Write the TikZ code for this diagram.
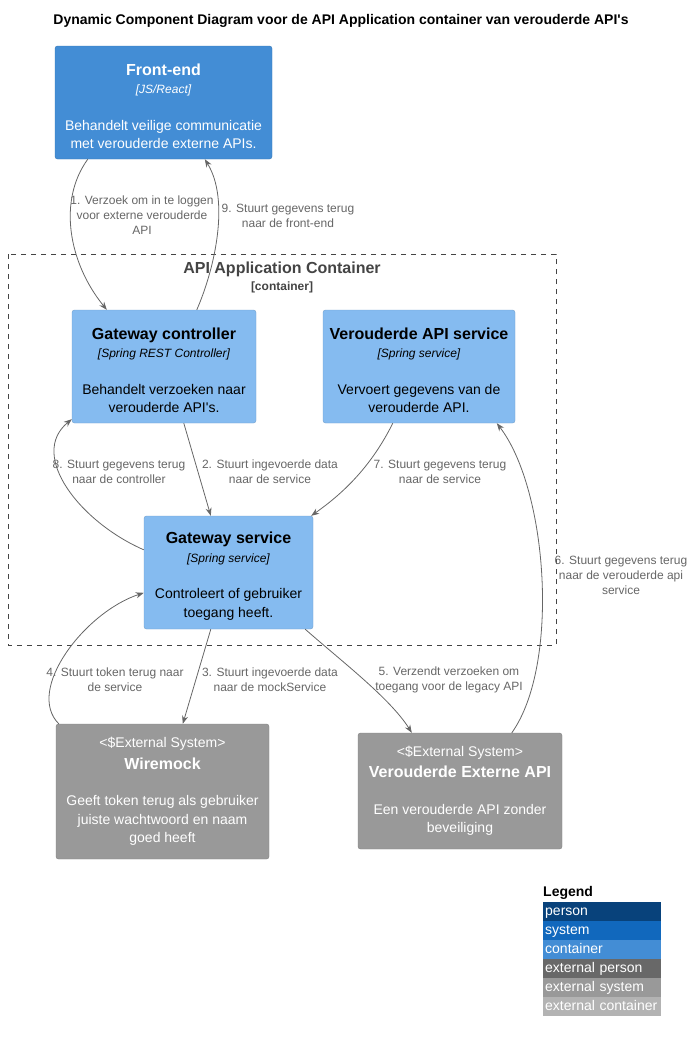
\documentclass[tikz,border=0pt]{standalone}
\usepackage{fontspec}
\setmainfont{Liberation Sans}[Ligatures=TeXOff]
\usepackage{tikz}
\usetikzlibrary{arrows.meta, positioning}

\definecolor{c4person}{HTML}{08427B}
\definecolor{c4system}{HTML}{1168BD}
\definecolor{c4container}{HTML}{438DD5}
\definecolor{c4component}{HTML}{85BBF0}
\definecolor{c4extperson}{HTML}{686868}
\definecolor{c4extsystem}{HTML}{999999}
\definecolor{c4extcontainer}{HTML}{B3B3B3}
\definecolor{relgray}{HTML}{666666}
\definecolor{bndgray}{HTML}{444444}

\newcommand{\boxtitle}[1]{{\fontsize{16}{19}\selectfont\bfseries #1}}
\newcommand{\boxtech}[1]{{\fontsize{12}{17}\selectfont\itshape #1}}

\begin{document}
\begin{tikzpicture}[x=1pt, y=-1pt,
        cbox/.style={rectangle, rounded corners=2.5pt, align=center, inner sep=0pt,
                     font=\fontsize{14}{18.5}\selectfont},
        container/.style={cbox, fill=c4container, draw=c4container!85!black, text=white},
        component/.style={cbox, fill=c4component, draw=c4component!85!black, text=black},
        extsys/.style={cbox, fill=c4extsystem, draw=c4extsystem!85!black, text=white},
        rel/.style={-{Stealth[length=8pt, width=6pt]}, relgray, line width=0.8pt},
        lbl/.style={align=center, text=relgray, font=\fontsize{12}{15}\selectfont, inner sep=0pt},
        legrow/.style={rectangle, minimum width=118pt, minimum height=18.6pt, inner sep=0pt,
                       text width=114pt, align=left, text=white, text height=9pt, text depth=2pt,
                       font=\fontsize{14}{16}\selectfont}
    ]
        \useasboundingbox (0,0) rectangle (691,1039);

        % title
        \node[font=\fontsize{14}{16}\selectfont\bfseries] (title) at (341,21)
            {Dynamic Component Diagram voor de API Application container van verouderde API's};

        % boundary
        \draw[bndgray, dash pattern=on 5pt off 5pt] (8,254) rectangle (556,645);
        \node[text=bndgray, font=\fontsize{16}{19}\selectfont\bfseries] (bnd) at (282,269)
            {API Application Container};
        \node[text=bndgray, font=\fontsize{12}{14}\selectfont\bfseries] (bndtype) at (282,287)
            {[container]};

        % elements
        \node[container, minimum width=217pt, minimum height=113pt] (fe) at (163.5,102.5)
            {\rule{0pt}{19pt}\boxtitle{Front-end}\\ \boxtech{[JS/React]}\\[18pt]
             Behandelt veilige communicatie\\ met verouderde externe APIs.};
        \node[component, minimum width=184pt, minimum height=113pt] (gc) at (164,366.5)
            {\rule{0pt}{19pt}\boxtitle{Gateway controller}\\ \boxtech{[Spring REST Controller]}\\[18pt]
             Behandelt verzoeken naar\\ verouderde API's.};
        \node[component, minimum width=192pt, minimum height=113pt] (vas) at (419,366.5)
            {\rule{0pt}{19pt}\boxtitle{Verouderde API service}\\ \boxtech{[Spring service]}\\[18pt]
             Vervoert gegevens van de\\ verouderde API.};
        \node[component, minimum width=169pt, minimum height=113pt] (gs) at (228.5,572.5)
            {\rule{0pt}{19pt}\boxtitle{Gateway service}\\ \boxtech{[Spring service]}\\[18pt]
             Controleert of gebruiker\\ toegang heeft.};
        \node[extsys, minimum width=213pt, minimum height=135pt] (wm) at (162.5,791.5)
            {<\$External System>\\[3pt] \boxtitle{Wiremock}\\[18pt]
             Geeft token terug als gebruiker\\ juiste wachtwoord en naam\\ goed heeft};
        \node[extsys, minimum width=204pt, minimum height=116pt] (vea) at (460,791)
            {<\$External System>\\[3pt] \boxtitle{Verouderde Externe API}\\[18pt]
             Een verouderde API zonder\\ beveiliging};

        % relations
        \draw[rel] ([xshift=33pt]fe.south west) .. controls (58,200) and (68,262) .. ([xshift=35pt]gc.north west);
        \draw[rel] ([xshift=112pt]gc.south west) -- ([xshift=67pt]gs.north west);
        \draw[rel] ([xshift=67pt]gs.south west) -- ([xshift=127pt]wm.north west);
        \draw[rel] ([xshift=3pt]wm.north west) .. controls (25,690) and (85,612) .. ([yshift=-77pt]gs.north west);
        \draw[rel] ([xshift=-8pt]gs.south east) .. controls (340,660) and (390,698) .. ([xshift=54pt]vea.north west);
        \draw[rel] ([xshift=154pt]vea.north west) .. controls (560,665) and (548,490) .. ([xshift=174pt]vas.south west);
        \draw[rel] ([xshift=70pt]vas.south west) .. controls (372,465) and (345,492) .. ([xshift=-2pt]gs.north east);
        \draw[rel] ([yshift=-34pt]gs.north west) .. controls (80,522) and (28,455) .. ([yshift=4pt]gc.south west);
        \draw[rel] ([xshift=125pt]gc.north west) .. controls (215,268) and (230,200) .. ([xshift=150pt]fe.south west);

        % relation labels
        \node[lbl] (l1) at (142,215) {1. Verzoek om in te loggen\\ voor externe verouderde\\ API};
        \node[lbl] (l2) at (270,472) {2. Stuurt ingevoerde data\\ naar de service};
        \node[lbl] (l3) at (270,680) {3. Stuurt ingevoerde data\\ naar de mockService};
        \node[lbl] (l4) at (115,680) {4. Stuurt token terug naar\\ de service};
        \node[lbl] (l5) at (449,680) {5. Verzendt verzoeken om\\ toegang voor de legacy API};
        \node[lbl] (l6) at (621,575) {6. Stuurt gegevens terug\\ naar de verouderde api\\ service};
        \node[lbl] (l7) at (440,472) {7. Stuurt gegevens terug\\ naar de service};
        \node[lbl] (l8) at (119,472) {8. Stuurt gegevens terug\\ naar de controller};
        \node[lbl] (l9) at (288,216) {9. Stuurt gegevens terug\\ naar de front-end};

        % legend
        \node[font=\fontsize{14}{16}\selectfont\bfseries, anchor=west, inner sep=0pt] (legtitle) at (543,893) {Legend};
        \node[legrow, fill=c4person, anchor=north west] (lperson) at (543,902) {person};
        \node[legrow, fill=c4system, below=0pt of lperson] (lsystem) {system};
        \node[legrow, fill=c4container, below=0pt of lsystem] (lcontainer) {container};
        \node[legrow, fill=c4extperson, below=0pt of lcontainer] (lextperson) {external person};
        \node[legrow, fill=c4extsystem, below=0pt of lextperson] (lextsystem) {external system};
        \node[legrow, fill=c4extcontainer, below=0pt of lextsystem] (lextcontainer) {external container};
    \end{tikzpicture}
\end{document}
